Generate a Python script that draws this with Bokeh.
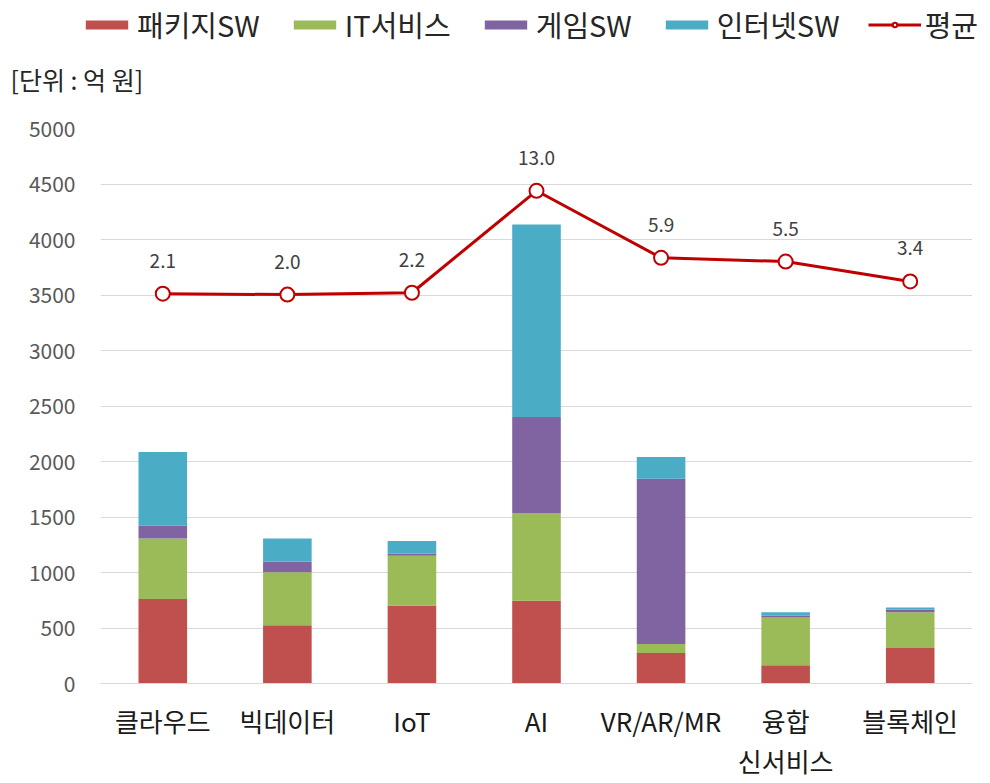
from bokeh.plotting import figure
from bokeh.models import (ColumnDataSource, FactorRange, Range1d, FixedTicker, Legend,
                          LegendItem, Label)
from bokeh.embed import file_html
from bokeh.resources import INLINE
from bokeh.core.properties import value

# ---- data ----
categories = ["클라우드", "빅데이터", "IoT", "AI", "VR/AR/MR", "융합\n신서비스", "블록체인"]
series_names = ["패키지SW", "IT서비스", "게임SW", "인터넷SW"]
package_sw = [762, 524, 703, 745, 275, 165, 320]
it_service = [545, 478, 449, 792, 81, 430, 323]
game_sw = [114, 96, 20, 864, 1489, 15, 21]
internet_sw = [664, 209, 111, 1735, 195, 33, 21]
avg_name = "평균"
avg_values = [2.1, 2.0, 2.2, 13.0, 5.9, 5.5, 3.4]
y_ticks = [0, 500, 1000, 1500, 2000, 2500, 3000, 3500, 4000, 4500, 5000]
unit_text = "[단위 : 억 원]"

colors = ["#c0504d", "#9bbb59", "#8064a2", "#4bacc6"]
line_color = "#c00000"
FONT = "Noto Sans CJK KR"
NAN = float("nan")

src = ColumnDataSource(dict(
    x=categories,
    s0=package_sw, s1=it_service, s2=game_sw, s3=internet_sw,
    avg=avg_values,
    avg_label=[f"{v:.1f}" for v in avg_values],
))

W = 990
# ---------------- header (legend + unit) ----------------
TOP_H = 114
top = figure(width=W, height=TOP_H, x_range=Range1d(0, W), y_range=Range1d(0, TOP_H),
             x_axis_type=None, y_axis_type=None, output_backend="svg",
             toolbar_location=None, min_border=0)
top.outline_line_color = None
top.grid.visible = False

# legend-only renderers (no visible marks)
leg_bars = [top.vbar(x=[NAN], top=[NAN], width=1, color=c, line_color=None) for c in colors]
leg_line = top.line(x=[NAN], y=[NAN], line_color=line_color, line_width=3)
leg_mark = top.scatter(x=[NAN], y=[NAN], size=12, fill_color="white",
                       line_color=line_color, line_width=2)
items = [LegendItem(label=n, renderers=[r]) for n, r in zip(series_names, leg_bars)]
items.append(LegendItem(label=avg_name, renderers=[leg_line, leg_mark]))
legend = Legend(items=items, orientation="horizontal", location=(80, 69),
                glyph_width=53, glyph_height=11, label_standoff=4, spacing=28,
                padding=0, margin=0, border_line_color=None,
                background_fill_alpha=0, label_text_font=FONT,
                label_text_font_size="29px", label_text_color="#262626")
top.add_layout(legend, "center")
top.add_layout(Label(x=10, y=36, text=unit_text, text_font=FONT,
                     text_font_size="25px", text_color="#262626",
                     text_baseline="middle"))

# ---------------- main chart ----------------
p = figure(width=W, height=783 - TOP_H, x_range=FactorRange(factors=categories),
           y_range=Range1d(0, 5000), output_backend="svg", toolbar_location=None,
           min_border_left=100, min_border_right=18, min_border_top=14,
           min_border_bottom=100)
p.extra_y_ranges = {"avg": Range1d(-39.2, 19.6)}
p.outline_line_color = None

bars = p.vbar_stack(["s0", "s1", "s2", "s3"], x="x", width=0.39, source=src,
                    color=colors, line_color=None)

p.line("x", "avg", source=src, y_range_name="avg", line_color=line_color, line_width=3)
p.scatter("x", "avg", source=src, y_range_name="avg", size=14,
          fill_color="white", line_color=line_color, line_width=2)
p.text("x", "avg", text="avg_label", source=src, y_range_name="avg",
       y_offset=-33, text_align="center", text_baseline="middle",
       text_font=value(FONT), text_font_size="19px", text_color="#404040")

p.yaxis.ticker = FixedTicker(ticks=y_ticks)
p.yaxis.axis_line_color = None
p.yaxis.major_tick_line_color = None
p.yaxis.major_tick_out = 0
p.yaxis.major_tick_in = 0
p.yaxis.minor_tick_line_color = None
p.yaxis.major_label_text_font = FONT
p.yaxis.major_label_text_font_size = "21px"
p.yaxis.major_label_text_color = "#595959"
p.yaxis.major_label_standoff = 25

p.xaxis.axis_line_color = "#d9d9d9"
p.xaxis.major_tick_line_color = None
p.xaxis.major_tick_out = 0
p.xaxis.major_tick_in = 0
p.xaxis.minor_tick_line_color = None
p.xaxis.major_label_text_font = FONT
p.xaxis.major_label_text_font_size = "26px"
p.xaxis.major_label_text_color = "#1a1a1a"
p.xaxis.major_label_standoff = 18
p.xaxis.major_label_text_line_height = 1.1

p.xgrid.grid_line_color = None
p.ygrid.grid_line_color = "#d9d9d9"
p.ygrid.grid_line_width = 1

open("out.html", "w").write(file_html([top, p], INLINE))
